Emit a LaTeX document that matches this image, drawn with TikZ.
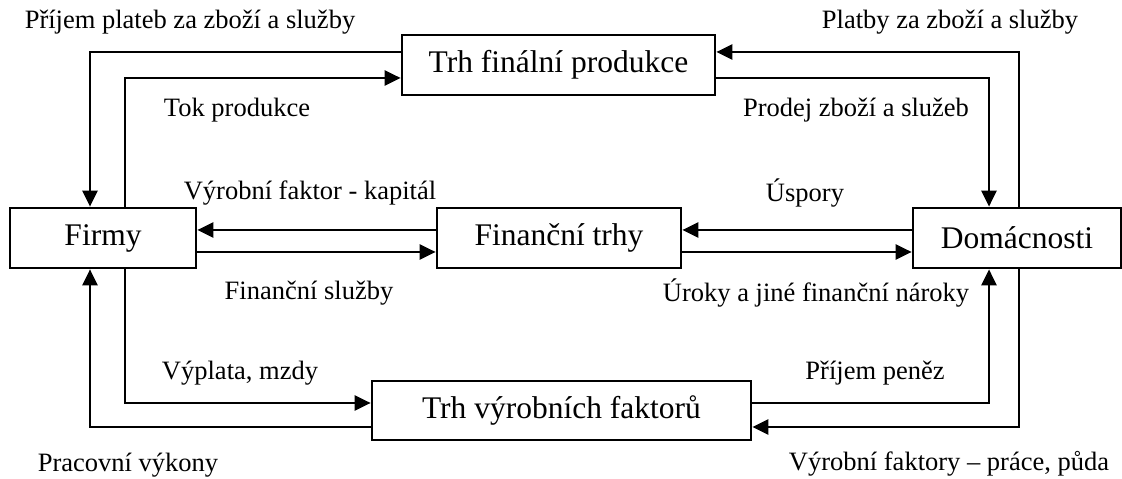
\documentclass[tikz,border=0pt]{standalone}
\usepackage{fontspec}
\setmainfont{Liberation Serif}
\usetikzlibrary{arrows.meta}

\begin{document}
\begin{tikzpicture}[x=1pt,y=1pt,
  box/.style={draw,line width=2.7pt,inner sep=0pt,minimum height=60pt,font=\fontsize{31.5}{36}\selectfont},
  lbl/.style={font=\fontsize{26.5}{30}\selectfont,inner sep=0pt},
  flow/.style={line width=2.6pt},
  tok/.style={flow,-{Triangle[length=16pt,width=15pt]}}]
 \useasboundingbox (0,0) rectangle (1122,479);

 \node[box,minimum width=186pt] (firmy) at (103,241) {Firmy};
 \node[box,minimum width=313pt] (trhfin) at (558.5,414) {Trh finální produkce};
 \node[box,minimum width=244pt] (fintrhy) at (559,241) {Finanční trhy};
 \node[box,minimum width=208pt] (domac) at (1017,241) {Domácnosti};
 \node[box,minimum width=379pt,minimum height=59pt] (trhvyr) at (561.5,68.5) {Trh výrobních faktorů};

 % corners of the loops
 \coordinate (tl1) at (90,427);
 \coordinate (tl2) at (125,401);
 \coordinate (tr1) at (1019,427);
 \coordinate (tr2) at (989,401);
 \coordinate (bl1) at (90,52);
 \coordinate (bl2) at (125,76);
 \coordinate (br1) at (1019,52);
 \coordinate (br2) at (989,76);
 \coordinate (mhi) at (0,249);
 \coordinate (mlo) at (0,227);

 % market for final goods
 \draw[tok] (trhfin.west |- tl1) -| (firmy.north -| tl1);
 \draw[tok] (firmy.north -| tl2) |- (trhfin.west |- tl2);
 \draw[tok] (trhfin.east |- tr2) -| (domac.north -| tr2);
 \draw[tok] (domac.north -| tr1) |- (trhfin.east |- tr1);

 % financial markets
 \draw[tok] (fintrhy.west |- mhi) -- (firmy.east |- mhi);
 \draw[tok] (firmy.east |- mlo) -- (fintrhy.west |- mlo);
 \draw[tok] (domac.west |- mhi) -- (fintrhy.east |- mhi);
 \draw[tok] (fintrhy.east |- mlo) -- (domac.west |- mlo);

 % factor market
 \draw[tok] (firmy.south -| bl2) |- (trhvyr.west |- bl2);
 \draw[tok] (trhvyr.west |- bl1) -| (firmy.south -| bl1);
 \draw[tok] (trhvyr.east |- br2) -| (domac.south -| br2);
 \draw[tok] (domac.south -| br1) |- (trhvyr.east |- br1);

 \node[lbl] (l1) at (190,457) {Příjem plateb za zboží a služby};
 \node[lbl] (l2) at (950,457) {Platby za zboží a služby};
 \node[lbl] (l3) at (237,369) {Tok produkce};
 \node[lbl] (l4) at (856,369) {Prodej zboží a služeb};
 \node[lbl] (l5) at (310,286) {Výrobní faktor - kapitál};
 \node[lbl] (l6) at (805,286) {Úspory};
 \node[lbl] (l7) at (309,186) {Finanční služby};
 \node[lbl] (l8) at (816,186) {Úroky a jiné finanční nároky};
 \node[lbl] (l9) at (240,106) {Výplata, mzdy};
 \node[lbl] (l10) at (875,106) {Příjem peněz};
 \node[lbl] (l11) at (128,14) {Pracovní výkony};
 \node[lbl] (l12) at (949,15) {Výrobní faktory – práce, půda};

\end{tikzpicture}
\end{document}
